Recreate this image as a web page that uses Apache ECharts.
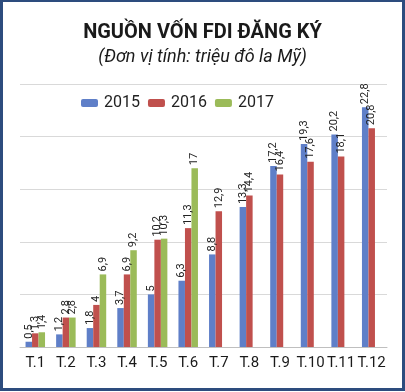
<!DOCTYPE html>
<html><head><meta charset="utf-8">
<script src="https://cdn.jsdelivr.net/npm/echarts@6/dist/echarts.min.js"></script>
<style>
html,body{margin:0;padding:0;background:#fff;}
#wrap{position:absolute;left:0;top:0;width:399px;height:386px;border:3px solid #2d4c7e;border-top-width:2px;background:#fff;}
#c{position:absolute;left:-3px;top:-2px;width:405px;height:392px;}
</style></head>
<body>
<div id="wrap"><div id="c"></div></div>
<script>
const categories = ['T.1','T.2','T.3','T.4','T.5','T.6','T.7','T.8','T.9','T.10','T.11','T.12'];
const seriesNames = ['2015','2016','2017'];
const v2015 = [0.5,1.2,1.8,3.7,5,6.3,8.8,13.3,17.2,19.3,20.2,22.8];
const v2016 = [1.3,2.8,4,6.9,10.2,11.3,12.9,14.4,16.4,17.6,18.1,20.8];
const v2017 = [1.4,2.8,6.9,9.2,10.3,17,null,null,null,null,null,null];
const colors = ['#5f7fc8','#c0504d','#9bbb59'];
const FONT = 'Roboto, sans-serif';

const chart = echarts.init(document.getElementById('c'), null, {renderer:'canvas'});
const mk = (name, data, color) => ({
  name, type:'bar', data, barWidth:6.5, barGap:'0%',
  itemStyle:{color},
  label:{show:true, position:'top', rotate:90, align:'left', verticalAlign:'middle', distance:3,
    fontFamily:FONT, fontSize:11, color:'#222',
    formatter:p => String(p.value).replace('.', ',')}
});
chart.setOption({
  animation:false,
  title:[
    {text:'NGUỒN VỐN FDI ĐĂNG KÝ', left:'center', top:18,
     textStyle:{fontFamily:FONT, fontWeight:'bold', fontSize:20, color:'#1a1a1a'}},
    {text:'(Đơn vị tính: triệu đô la Mỹ)', left:'center', top:43,
     textStyle:{fontFamily:FONT, fontStyle:'italic', fontWeight:'normal', fontSize:18, color:'#1a1a1a'}}
  ],
  legend:{data:seriesNames, left:76, top:90, itemWidth:17, itemHeight:8, itemGap:8,
    textStyle:{fontFamily:FONT, fontSize:16, color:'#222', padding:[0,0,0,1]}},
  grid:{left:20, right:18, top:84, bottom:45},
  xAxis:{type:'category', data:categories,
    axisLine:{lineStyle:{color:'#bfbfbf'}}, axisTick:{show:false},
    axisLabel:{fontFamily:FONT, fontSize:15, color:'#1a1a1a', margin:9, interval:0}},
  yAxis:{type:'value', min:0, max:25, interval:5, axisLabel:{show:false},
    axisLine:{show:false}, axisTick:{show:false},
    splitLine:{lineStyle:{color:'#d9d9d9'}}},
  series:[mk(seriesNames[0], v2015, colors[0]), mk(seriesNames[1], v2016, colors[1]), mk(seriesNames[2], v2017, colors[2])]
});
</script>
</body></html>
